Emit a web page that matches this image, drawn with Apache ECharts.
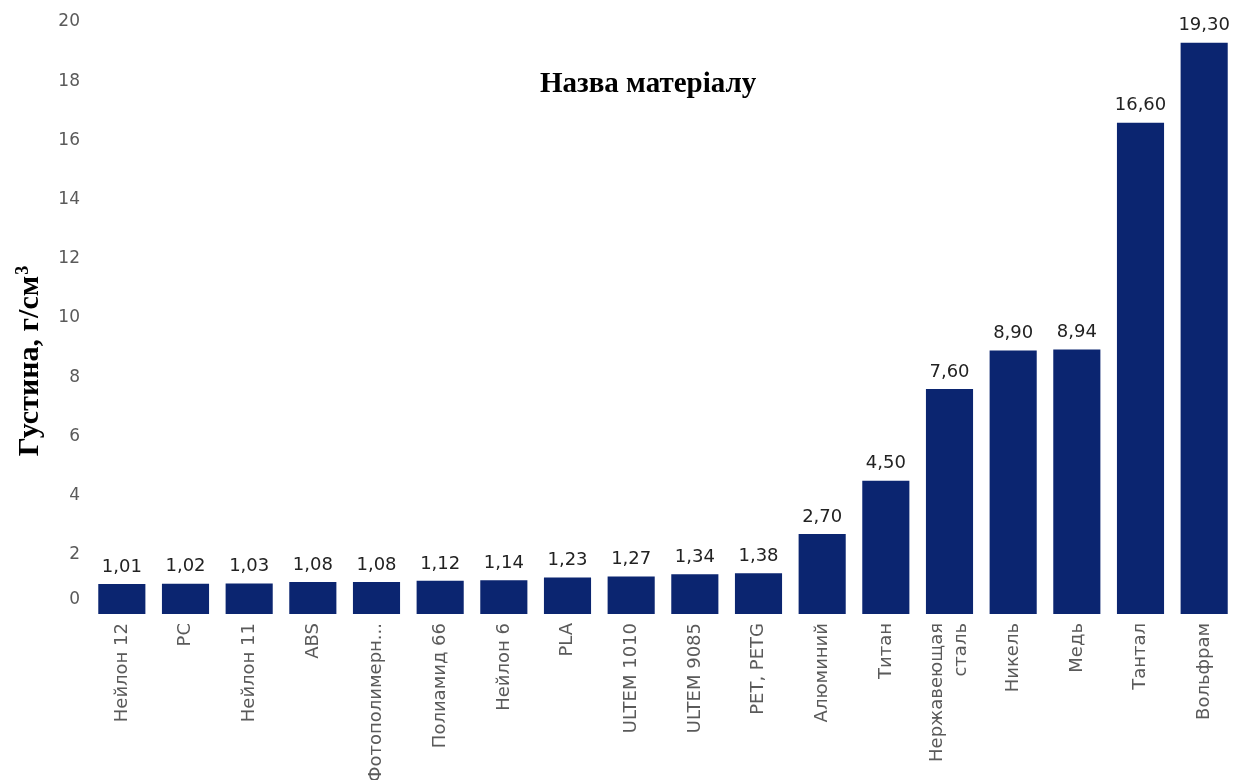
<!DOCTYPE html>
<html>
<head>
<meta charset="utf-8">
<script src="https://cdn.jsdelivr.net/npm/echarts@6/dist/echarts.min.js"></script>
<style>
  html, body { margin: 0; padding: 0; background: #fff; }
  #chart { width: 1243px; height: 780px; }
</style>
</head>
<body>
<div id="chart"></div>
<script>
const categories = ['Нейлон 12', 'PC', 'Нейлон 11', 'ABS', 'Фотополимерн...', 'Полиамид 66', 'Нейлон 6', 'PLA', 'ULTEM 1010', 'ULTEM 9085', 'PET, PETG', 'Алюминий', 'Титан', 'Нержавеющая\nсталь', 'Никель', 'Медь', 'Тантал', 'Вольфрам'];
const densities = [1.01, 1.02, 1.03, 1.08, 1.08, 1.12, 1.14, 1.23, 1.27, 1.34, 1.38, 2.70, 4.50, 7.60, 8.90, 8.94, 16.60, 19.30];
const yTicks = { min: 0, max: 20, interval: 2 };
const titleText = 'Назва матеріалу';
const yNameMain = 'Густина, г/см';
const yNameSup = '3';

const chart = echarts.init(document.getElementById('chart'));
chart.setOption({
  animation: false,
  backgroundColor: '#ffffff',
  title: {
    text: titleText,
    left: 535,
    top: 65,
    textStyle: { fontFamily: 'Liberation Serif', fontWeight: 'bold', fontSize: 29, color: '#000' }
  },
  grid: { left: 90, right: 7, top: 22, bottom: 166, containLabel: false, outerBoundsMode: 'none' },
  xAxis: {
    type: 'category',
    data: categories,
    axisLine: { show: false },
    axisTick: { show: false },
    axisLabel: {
      interval: 0,
      rotate: 90,
      margin: 9,
      fontFamily: 'DejaVu Sans',
      fontSize: 18,
      color: '#5a5a5a',
      lineHeight: 24
    }
  },
  yAxis: {
    type: 'value',
    min: yTicks.min,
    max: yTicks.max,
    interval: yTicks.interval,
    splitLine: { show: false },
    axisLine: { show: false },
    axisTick: { show: false },
    axisLabel: {
      margin: 10,
      fontFamily: 'DejaVu Sans',
      fontSize: 17,
      color: '#5a5a5a',
      formatter: function (v) { return v === 0 ? '{z|0}' : String(v); },
      rich: { z: { fontFamily: 'DejaVu Sans', fontSize: 17, color: '#5a5a5a', padding: [0, 0, 28, 0] } }
    }
  },
  graphic: [{
    type: 'text',
    x: 30,
    y: 361,
    rotation: Math.PI / 2,
    style: {
      text: '{a|' + yNameMain + '}{s|' + yNameSup + '}',
      align: 'center',
      verticalAlign: 'middle',
      rich: {
        a: { fontFamily: 'Liberation Serif', fontWeight: 'bold', fontSize: 30, fill: '#000', lineHeight: 32 },
        s: { fontFamily: 'Liberation Serif', fontWeight: 'bold', fontSize: 18, fill: '#000', verticalAlign: 'top', lineHeight: 32, padding: [0, 0, 12, 1] }
      }
    }
  }],
  series: [{
    type: 'bar',
    data: densities,
    barCategoryGap: '26%',
    itemStyle: { color: '#0b2570' },
    label: {
      show: true,
      position: 'top',
      distance: 8,
      fontFamily: 'DejaVu Sans',
      fontSize: 18,
      color: '#222',
      formatter: function (p) { return p.value.toFixed(2).replace('.', ','); }
    }
  }]
});
</script>
</body>
</html>
